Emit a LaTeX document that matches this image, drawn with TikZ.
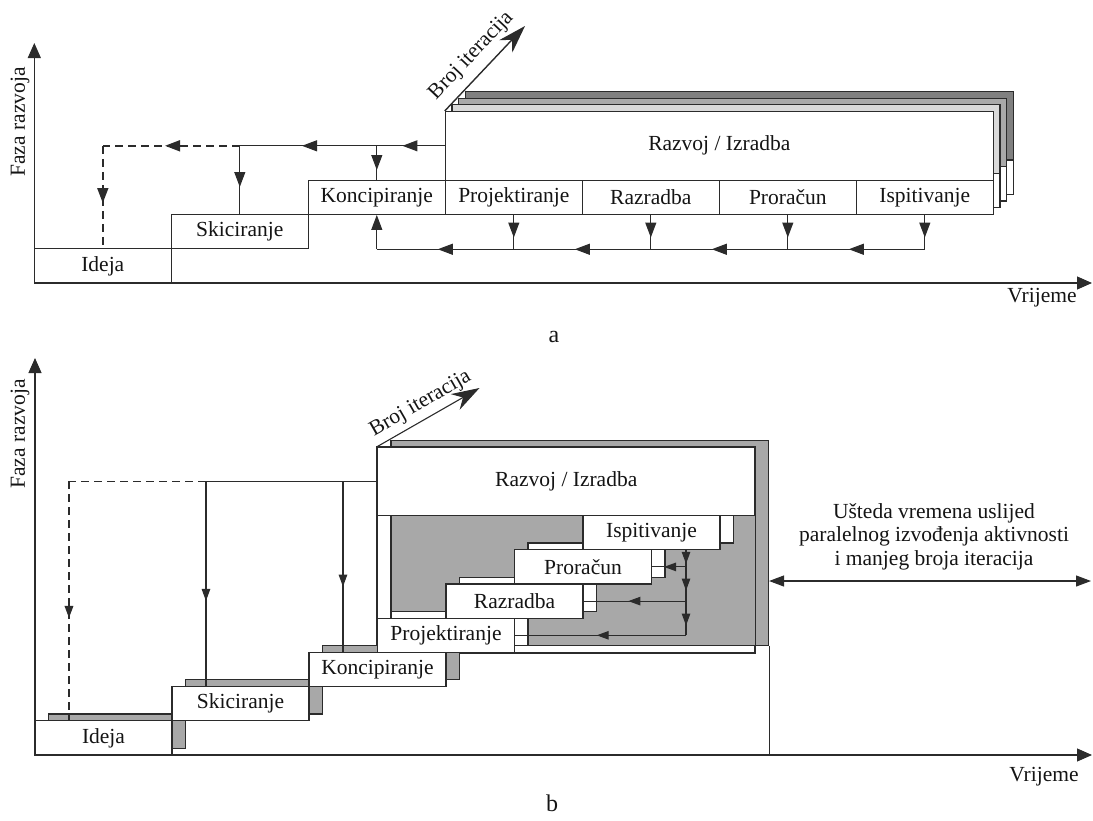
\documentclass[tikz,border=0pt]{standalone}
\usepackage{fontspec}
\setmainfont{Liberation Serif}
\usetikzlibrary{arrows.meta,decorations.markings,calc}
\definecolor{lc}{HTML}{2B2B2B}
\definecolor{gB}{HTML}{A8A8A8}
\definecolor{gL}{HTML}{D9D9D9}
\definecolor{gM}{HTML}{A9A9A9}
\definecolor{gD}{HTML}{808080}
\tikzset{
  tipA/.tip={Triangle[length=15pt,width=11pt]},
  tipB/.tip={Triangle[length=12pt,width=8.5pt]},
  tipX/.tip={Triangle[length=15pt,width=13pt]},
  tipI/.tip={Stealth[length=28pt,width=18pt,inset=9pt]},
}
\begin{document}
\begin{tikzpicture}[x=1pt,y=-1pt,
  every node/.style={font=\fontsize{21.5}{23.3}\selectfont, text=black!92},
  ln/.style={draw=lc, line width=1.1pt},
  dsh/.style={line width=1.7pt, dash pattern=on 8pt off 5pt},
  box/.style={ln, fill=white, minimum width=137pt, minimum height=34.3pt, inner sep=0pt},
  boxb/.style={ln, fill=white, minimum width=137pt, minimum height=34.2pt, inner sep=0pt},
  shg/.style={boxb, fill=gB},
  marr/.style 2 args={postaction={decorate}, decoration={markings, mark=at position #1 with {\arrow{#2}}}},
]
\useasboundingbox (0,0) rectangle (1093,820);

% ================= PART a =================
\foreach \k/\c in {3/gD,2/gM,1/gL}{
  \pgfmathsetmacro\d{6.7*\k}
  \filldraw[ln, fill=white] (445.3+\d, 111.5-\d) rectangle (993.3+\d, 214.4-\d);
  \filldraw[ln, fill=\c] (445.3+\d, 111.5-\d) rectangle (993.3+\d, 180.1-\d);
}
\node[box] (idA) at (102.8, 265.85) {Ideja};
\node[box] (skA) at (239.8, 231.55) {Skiciranje};
\node[box] (koA) at (376.8, 197.25) {Koncipiranje};
\node[box] (pjA) at (513.8, 197.25) {Projektiranje};
\node[box] (rzA) at (650.8, 197.25) {Razradba};
\node[box] (prA) at (787.8, 197.25) {Proračun};
\node[box] (isA) at (924.8, 197.25) {Ispitivanje};
\node[box, minimum width=548pt, minimum height=68.6pt] (rvA) at (719.3, 145.8) {Razvoj / Izradba};

% axes a
\coordinate (oA) at (34.3,283);
\coordinate (yA) at (34.3,43);
\coordinate (xA) at (1092,283);
\draw[ln, -{tipX}] (oA) -- (yA);
\draw[ln, -{tipX}] (oA) -- (xA);
\node[rotate=90] (fzA) at (20,122) {Faza razvoja};
\node (vrA) at (1042,298) {Vrijeme};
\node[font=\fontsize{24}{26}\selectfont, anchor=base] (lA) at (554,342) {a};

% iterations a
\coordinate (biA) at (525,26);
\draw[ln, line width=1.4pt, -{tipI}] (rvA.north west) -- (biA) node[midway, sloped, above=5pt] (tbA) {Broj iteracija};

% feedback top a
\coordinate (tkA) at (koA.north |- rvA.west);
\coordinate (tsA) at (skA.north |- rvA.west);
\coordinate (tiA) at (idA.north |- rvA.west);
\draw[ln, marr={42.3pt}{tipA}] (rvA.west) -- (tkA);
\draw[ln, marr={74.8pt}{tipA}] (tkA) -- (tsA);
\draw[ln, dsh, marr={74.8pt}{tipA}] (tsA) -- (tiA);
\draw[ln, dsh, marr={57.2pt}{tipA}] (tiA) -- (idA.north);
\draw[ln, marr={24.2pt}{tipA}] (tkA) -- (koA.north);
\draw[ln, marr={41.2pt}{tipA}] (tsA) -- (skA.north);

% feedback bottom a
\coordinate (bI) at (isA.south |- skA.south);
\coordinate (bP) at (prA.south |- skA.south);
\coordinate (bR) at (rzA.south |- skA.south);
\coordinate (bJ) at (pjA.south |- skA.south);
\coordinate (bK) at (koA.south |- skA.south);
\draw[ln, marr={22.6pt}{tipA}] (isA.south) -- (bI);
\draw[ln, marr={22.6pt}{tipA}] (prA.south) -- (bP);
\draw[ln, marr={22.6pt}{tipA}] (rzA.south) -- (bR);
\draw[ln, marr={22.6pt}{tipA}] (pjA.south) -- (bJ);
\draw[ln, marr={76pt}{tipA}] (bI) -- (bP);
\draw[ln, marr={76pt}{tipA}] (bP) -- (bR);
\draw[ln, marr={76pt}{tipA}] (bR) -- (bJ);
\draw[ln, marr={76pt}{tipA}] (bJ) -- (bK);
\draw[ln, -{tipA}] (bK) -- (koA.south);

% ================= PART b =================
\node[ln, fill=white, minimum width=377.5pt, minimum height=205.1pt, inner sep=0pt] (frB) at (566.25,549.85) {};
\node[ln, fill=gB, minimum width=377.5pt, minimum height=205.1pt, inner sep=0pt] (shB) at (579.75,543.05) {};
\draw[ln] (frB.north west) rectangle (frB.south east);

% shadows
\node[shg] (sIdB) at (117,731.1) {};
\node[shg] (sSkB) at (254,696.9) {};
\node[shg] (sKoB) at (391,662.7) {};
\node[boxb] (sPjB) at (459.5,628.5) {};
\node[boxb] (sRzB) at (528,594.3) {};
\node[boxb] (sPrB) at (596.5,560.1) {};
\node[boxb] (sIsB) at (665,525.9) {};

\node[boxb] (idB) at (103.5,737.9) {Ideja};
\node[boxb] (skB) at (240.5,703.7) {Skiciranje};
\node[boxb] (koB) at (377.5,669.5) {Koncipiranje};
\node[boxb] (pjB) at (446,635.3) {Projektiranje};
\node[boxb] (rzB) at (514.5,601.1) {Razradba};
\node[boxb] (prB) at (583,566.9) {Proračun};
\node[boxb] (isB) at (651.5,532.7) {Ispitivanje};
\node[boxb, minimum width=377.5pt, minimum height=68.3pt] (rvB) at (566.25,481.45) {Razvoj / Izradba};

% axes b
\coordinate (oB) at (35,755);
\coordinate (yB) at (35,358);
\coordinate (xB) at (1092,755);
\draw[ln, -{tipX}] (oB) -- (yB);
\draw[ln, -{tipX}] (oB) -- (xB);
\node[rotate=90] (fzB) at (20,434) {Faza razvoja};
\node (vrB) at (1044,777) {Vrijeme};
\node[font=\fontsize{24}{26}\selectfont, anchor=base] (lB) at (552,811) {b};

% iterations b
\coordinate (biB) at (479.5,388);
\draw[ln, -{tipI}] (rvB.north west) -- (biB) node[midway, sloped, above=2pt] (tbB) {Broj iteracija};

% feedback top b
\coordinate (tkB) at ($(koB.north west)!0.25!(koB.north east)$);
\coordinate (tsB) at ($(skB.north west)!0.25!(skB.north east)$);
\coordinate (tiB) at ($(idB.north west)!0.25!(idB.north east)$);
\coordinate (hK) at (tkB |- rvB.west);
\coordinate (hS) at (tsB |- rvB.west);
\coordinate (hI) at (tiB |- rvB.west);
\draw[ln] (rvB.west) -- (hS);
\draw[ln, dsh] (hS) -- (hI);
\draw[ln, dsh, marr={136.5pt}{tipB}] (hI) -- (tiB);
\draw[ln, marr={105.2pt}{tipB}] (hK) -- (tkB);
\draw[ln, marr={119.5pt}{tipB}] (hS) -- (tsB);

% inner feedback b
\coordinate (v0) at ($(isB.south west)!0.75!(isB.south east)$);
\coordinate (vP) at (v0 |- prB.east);
\coordinate (vR) at (v0 |- rzB.east);
\coordinate (vJ) at (v0 |- pjB.east);
\draw[ln, postaction={decorate}, decoration={markings,
   mark=at position 13.5pt with {\arrow{tipB}},
   mark=at position 40.2pt with {\arrow{tipB}},
   mark=at position 75.2pt with {\arrow{tipB}}}] (v0) -- (vJ);
\draw[ln, marr={22pt}{tipB}] (vP) -- (prB.east);
\draw[ln, marr={57.7pt}{tipB}] (vR) -- (rzB.east);
\draw[ln, marr={89.3pt}{tipB}] (vJ) -- (pjB.east);

% time saving
\draw[ln] (shB.south east) -- (shB.south east |- oB);
\coordinate (usR) at (1091,581);
\draw[ln, {tipA}-{tipA}] (usR -| shB.east) -- (usR);
\node[align=center] (ust) at (934,536.7) {Ušteda vremena uslijed\\paralelnog izvođenja aktivnosti\\i manjeg broja iteracija};
\end{tikzpicture}
\end{document}
